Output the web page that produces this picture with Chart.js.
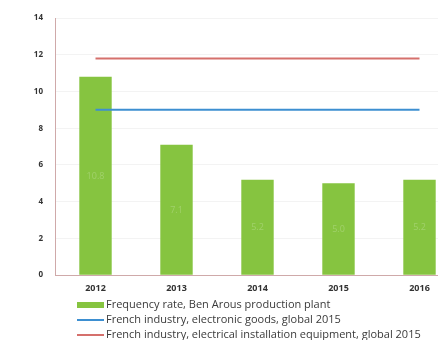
<!DOCTYPE html>
<html>
<head>
<meta charset="utf-8">
<script src="https://cdn.jsdelivr.net/npm/chart.js@4"></script>
<style>
  html, body { margin: 0; padding: 0; background: #fff; overflow: hidden; }
  #wrap { position: relative; width: 438px; height: 340px; overflow: hidden; }
  #chartBox { position: absolute; left: 0; top: 0; width: 464px; height: 302px; }
  #legend { position: absolute; left: 77px; top: 296px; font-family: "Open Sans", sans-serif; font-size: 11px; color: #3a3a3a; }
  #legend div { height: 15px; line-height: 15px; white-space: nowrap; }
  #legend span.key { display: inline-block; width: 27px; margin-right: 2px; vertical-align: middle; }
</style>
</head>
<body>
<div id="wrap">
  <div id="chartBox"><canvas id="chart"></canvas></div>
  <div id="legend"></div>
</div>
<script>
const years = ['2012', '2013', '2014', '2015', '2016'];
const plantRate = [10.8, 7.1, 5.2, 5.0, 5.2];
const electronicGoods = [9.0, 9.0, 9.0, 9.0, 9.0];
const electricalEquipment = [11.8, 11.8, 11.8, 11.8, 11.8];
const yTicks = [0, 2, 4, 6, 8, 10, 12, 14];

const labels = [
    'Frequency rate, Ben Arous production plant',
    'French industry, electronic goods, global 2015',
    'French industry, electrical installation equipment, global 2015'
];
const colors = ['#86c440', '#3d8fd1', '#d5706c'];

// faint value labels inside the bars
const barLabels = {
    id: 'barLabels',
    afterDatasetsDraw(chart) {
        const ctx = chart.ctx;
        const meta = chart.getDatasetMeta(0);
        ctx.save();
        ctx.fillStyle = 'rgba(255,255,255,0.22)';
        ctx.font = '9px "Open Sans", sans-serif';
        ctx.textAlign = 'center';
        ctx.textBaseline = 'middle';
        meta.data.forEach((bar, i) => {
            const y = chart.scales.y.getPixelForValue(plantRate[i] / 2);
            ctx.fillText(plantRate[i].toFixed(1), bar.x, y);
        });
        ctx.restore();
    }
};

const ctx = document.getElementById('chart').getContext('2d');
new Chart(ctx, {
    data: {
        labels: years,
        datasets: [
            {
                type: 'line',
                label: labels[2],
                data: electricalEquipment,
                borderColor: colors[2],
                borderWidth: 2,
                pointRadius: 0,
                fill: false,
                order: 0
            },
            {
                type: 'line',
                label: labels[1],
                data: electronicGoods,
                borderColor: colors[1],
                borderWidth: 2,
                pointRadius: 0,
                fill: false,
                order: 0
            },
            {
                type: 'bar',
                label: labels[0],
                data: plantRate,
                backgroundColor: colors[0],
                categoryPercentage: 1,
                barPercentage: 0.4,
                order: 1
            }
        ]
    },
    options: {
        responsive: true,
        maintainAspectRatio: false,
        animation: false,
        layout: { padding: { top: 18, right: 4, left: 0, bottom: 0 } },
        plugins: {
            legend: { display: false },
            tooltip: { enabled: false }
        },
        scales: {
            x: {
                grid: { display: false, drawTicks: false },
                border: { color: '#cfa9a9' },
                ticks: {
                    color: '#333',
                    font: { family: '"Open Sans", sans-serif', size: 9, weight: 'bold' },
                    padding: 8
                }
            },
            y: {
                min: 0,
                max: 14,
                afterFit(scale) { scale.width = 55; },
                afterBuildTicks(scale) { scale.ticks = yTicks.map(v => ({ value: v })); },
                grid: { color: '#f3f3f3', drawTicks: false },
                border: { color: '#cfa9a9' },
                ticks: {
                    color: '#333',
                    font: { family: '"Open Sans", sans-serif', size: 8, weight: 'bold' },
                    padding: 12
                }
            }
        }
    },
    plugins: [barLabels]
});

const legendEl = document.getElementById('legend');
labels.forEach((text, i) => {
    const row = document.createElement('div');
    const key = document.createElement('span');
    key.className = 'key';
    key.style.height = i === 0 ? '6px' : '2px';
    key.style.background = colors[i];
    row.appendChild(key);
    row.appendChild(document.createTextNode(text));
    legendEl.appendChild(row);
});
</script>
</body>
</html>
